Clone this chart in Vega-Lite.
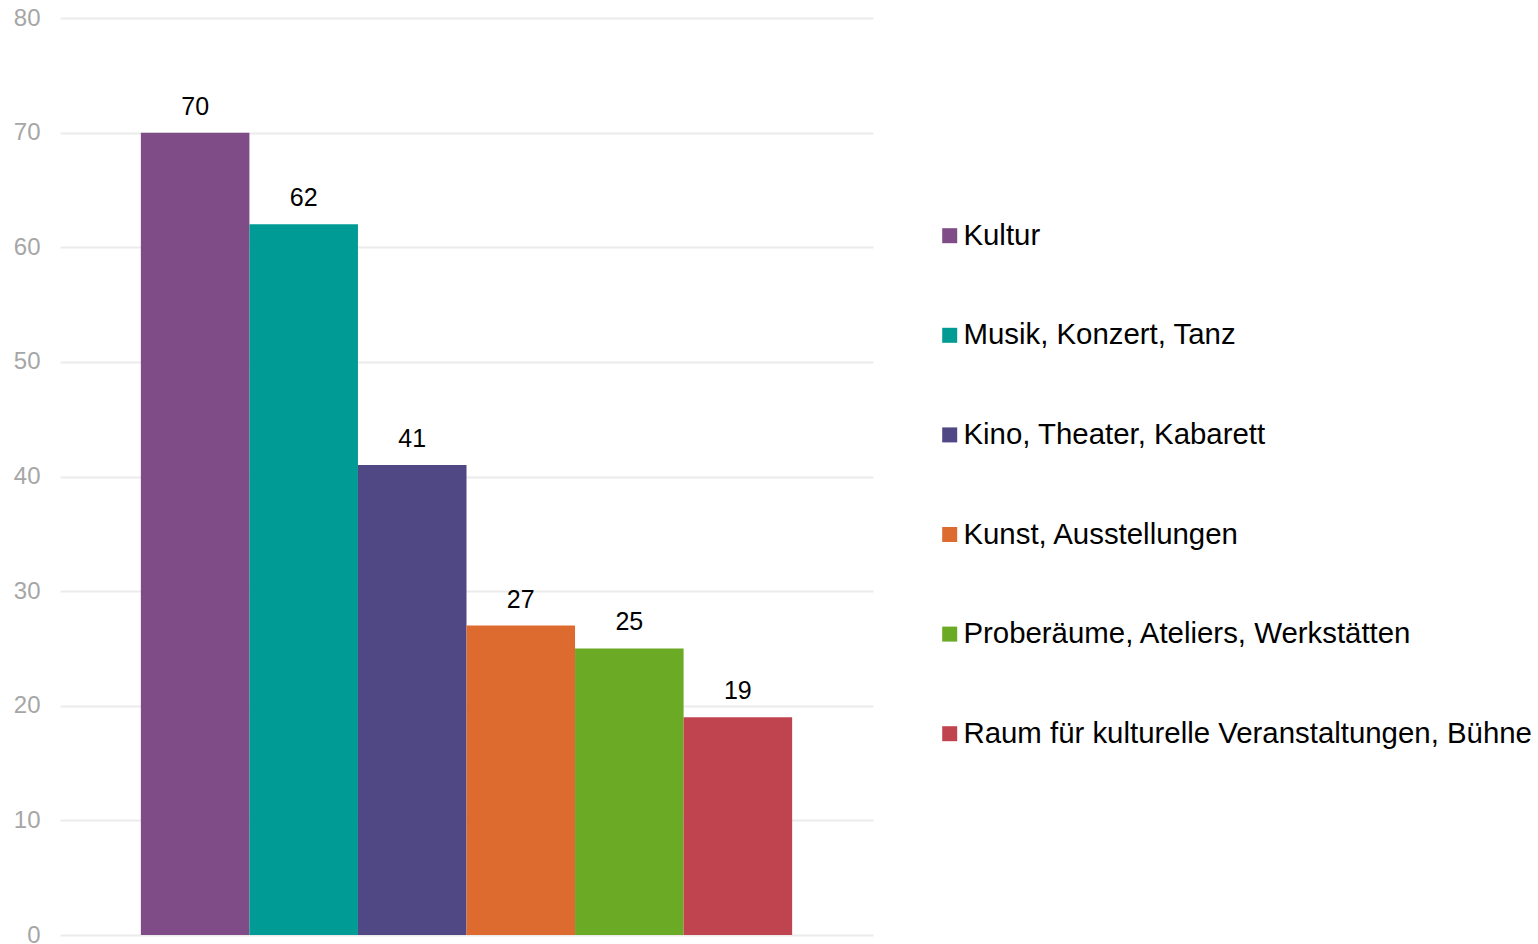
{
  "$schema": "https://vega.github.io/schema/vega-lite/v6.json",
  "autosize": {"type": "none"},
  "padding": {"left": 60, "top": 18, "right": 665, "bottom": 9},
  "width": 813,
  "height": 917,
  "background": "white",
  "config": {
    "font": "Liberation Sans",
    "view": {"stroke": null}
  },
  "data": {
    "values": [
      {"kategorie": "Kultur", "wert": 70},
      {"kategorie": "Musik, Konzert, Tanz", "wert": 62},
      {"kategorie": "Kino, Theater, Kabarett", "wert": 41},
      {"kategorie": "Kunst, Ausstellungen", "wert": 27},
      {"kategorie": "Proberäume, Ateliers, Werkstätten", "wert": 25},
      {"kategorie": "Raum für kulturelle Veranstaltungen, Bühne", "wert": 19}
    ]
  },
  "encoding": {
    "x": {
      "field": "kategorie",
      "type": "nominal",
      "sort": null,
      "axis": null,
      "scale": {"paddingInner": 0, "paddingOuter": 0.745}
    },
    "y": {
      "field": "wert",
      "type": "quantitative",
      "scale": {"domain": [0, 80], "nice": false},
      "axis": {
        "title": null,
        "values": [0, 10, 20, 30, 40, 50, 60, 70, 80],
        "domain": false,
        "ticks": false,
        "labelColor": "#a6a6a6",
        "labelFontSize": 24,
        "labelPadding": 20,
        "gridColor": "#ebebeb",
        "gridWidth": 2
      }
    }
  },
  "layer": [
    {
      "mark": {"type": "bar"},
      "encoding": {
        "color": {
          "field": "kategorie",
          "type": "nominal",
          "sort": null,
          "scale": {
            "domain": ["Kultur", "Musik, Konzert, Tanz", "Kino, Theater, Kabarett", "Kunst, Ausstellungen", "Proberäume, Ateliers, Werkstätten", "Raum für kulturelle Veranstaltungen, Bühne"],
            "range": ["#7f4c88", "#009b94", "#4f4884", "#dd6a2e", "#6aaa24", "#c0444f"]
          },
          "legend": {
            "title": null,
            "orient": "none",
            "legendX": 875,
            "legendY": 203,
            "symbolType": "square",
            "symbolSize": 225,
            "symbolStrokeWidth": 0,
            "labelFontSize": 29.4,
            "labelColor": "#000000",
            "labelOffset": -1,
            "labelLimit": 0,
            "rowPadding": 68.6,
            "padding": 0
          }
        }
      }
    },
    {
      "mark": {"type": "text", "dy": -18, "baseline": "alphabetic", "fontSize": 25, "color": "#000000"},
      "encoding": {
        "text": {"field": "wert", "type": "quantitative"}
      }
    }
  ]
}
